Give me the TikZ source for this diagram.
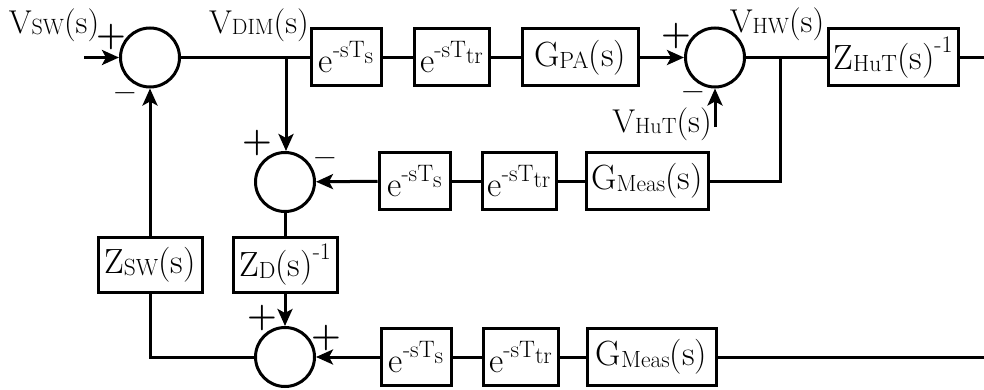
\documentclass[tikz,border=0pt]{standalone}
\usepackage{fontspec}
\usepackage{graphicx}
\usetikzlibrary{arrows.meta}

% indici e apici in testo
\newcommand{\lowtx}[1]{\raisebox{-0.12ex}{\scalebox{0.67}{#1}}}
\newcommand{\hightx}[2][1.0ex]{\raisebox{#1}{\scalebox{0.68}{#2}}}

\begin{document}
\begin{tikzpicture}[
		x=0.5pt, y=-0.5pt,
		line width=1.5pt,
		block/.style={rectangle, draw, minimum height=28.5pt, inner sep=0pt, font=\fontsize{17.5}{20}\selectfont},
		sumnode/.style={circle, draw, minimum size=29.5pt, inner sep=0pt},
		sig/.style={font=\fontsize{16.5}{19}\selectfont, inner sep=0pt},
		sign/.style={font=\fontsize{17}{19}\selectfont\bfseries, inner sep=0pt},
		arrow/.style={->, >={Stealth[length=8.5pt,width=7.5pt,inset=2pt]}}
	]
	\useasboundingbox (0,0) rectangle (984,390);

	% Ramo superiore
	\node[sumnode] (sum1) at (150,57.5) {};
	\node[block, minimum width=35pt] (ds1) at (346,57.5) {e\hightx{-sT\raisebox{-0.55ex}{s}}};
	\node[block, minimum width=37.5pt] (dt1) at (451.5,57.5) {e\hightx{-sT\raisebox{-0.55ex}{tr}}};
	\node[block, minimum width=58pt] (gpa) at (580,57.5) {G\lowtx{PA}(s)};
	\node[sumnode] (sum3) at (715,57.5) {};
	\node[block, minimum width=65pt] (zhut) at (893,57.5) {Z\lowtx{HuT}(s)\hightx[1.15ex]{-1}};

	% Ramo di misura
	\node[sumnode] (sum2) at (285,182) {};
	\node[block, minimum width=35.5pt] (ds2) at (414.5,181) {e\hightx{-sT\raisebox{-0.55ex}{s}}};
	\node[block, minimum width=37pt] (dt2) at (519,181) {e\hightx{-sT\raisebox{-0.55ex}{tr}}};
	\node[block, minimum width=61pt] (gm1) at (647,181) {G\lowtx{Meas}(s)};

	% Impedenze
	\node[block, minimum width=52pt, minimum height=27.5pt] (zsw) at (150,264.5) {Z\lowtx{SW}(s)};
	\node[block, minimum width=52pt, minimum height=27.5pt] (zd) at (285,264.5) {Z\lowtx{D}(s)\hightx[1.15ex]{-1}};

	% Ramo inferiore
	\node[sumnode] (sum4) at (285,357) {};
	\node[block, minimum width=35pt] (ds3) at (416,357) {e\hightx{-sT\raisebox{-0.55ex}{s}}};
	\node[block, minimum width=37.5pt] (dt3) at (520.5,357) {e\hightx{-sT\raisebox{-0.55ex}{tr}}};
	\node[block, minimum width=64.5pt] (gm2) at (651.5,357) {G\lowtx{Meas}(s)};

	% Etichette dei segnali
	\node[sig] (vsw) at (54,25) {V\lowtx{SW}(s)};
	\node[sig] (vdim) at (259,25) {V\lowtx{DIM}(s)};
	\node[sig] (vhw) at (777,24) {V\lowtx{HW}(s)};
	\node[sig] (vhut) at (662,124) {V\lowtx{HuT}(s)};

	% Segni
	\node[sign] (p1) at (111,37) {+};
	\node[sign] (m1) at (125,98) {--};
	\node[sign] (p3) at (676,36) {+};
	\node[sign] (m3) at (693,97) {--};
	\node[sign] (p2) at (257,143) {+};
	\node[sign] (m2) at (325,163) {--};
	\node[sign] (p4a) at (262,318) {+};
	\node[sign] (p4b) at (326,338) {+};

	% Punti di diramazione e terminali
	\coordinate (in) at (84,57.5);
	\coordinate (br1) at (286,57.5);
	\coordinate (br2) at (780,57.5);
	\coordinate (hut) at (715,127);
	\coordinate (out1) at (984,57.5);
	\coordinate (out2) at (984,357);

	% Collegamenti
	\draw[arrow] (in) -- (sum1);
	\draw (sum1) -- (ds1) -- (dt1) -- (gpa);
	\draw[arrow] (gpa) -- (sum3);
	\draw (sum3) -- (zhut) -- (out1);
	\draw[arrow] (hut) -- (sum3.south);
	\draw[arrow] (br1) -- (br1 |- sum2.north);
	\draw (br2) |- (gm1.east);
	\draw (gm1) -- (dt2) -- (ds2);
	\draw[arrow] (ds2) -- (sum2);
	\draw (sum2) -- (zd);
	\draw[arrow] (zd) -- (sum4);
	\draw (out2) -- (gm2) -- (dt3) -- (ds3);
	\draw[arrow] (ds3) -- (sum4);
	\draw (sum4.west) -| (zsw.south);
	\draw[arrow] (zsw) -- (sum1);

\end{tikzpicture}
\end{document}
